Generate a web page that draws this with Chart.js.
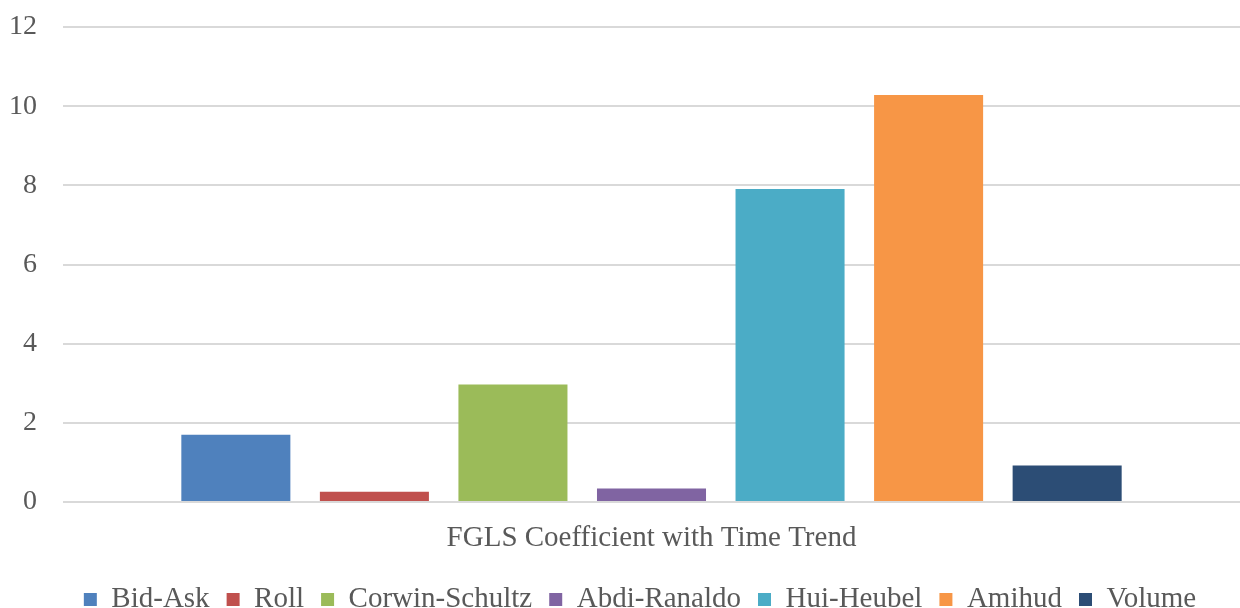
<!DOCTYPE html>
<html>
<head>
<meta charset="utf-8">
<title>FGLS Coefficient with Time Trend</title>
<script src="https://cdn.jsdelivr.net/npm/chart.js@4/dist/chart.umd.min.js"></script>
<style>
    html, body { margin: 0; padding: 0; background: #ffffff; }
    #wrap { width: 1240px; height: 608px; position: relative; }
</style>
</head>
<body>
<div id="wrap"><canvas id="fglsChart"></canvas></div>
<script>
// Liquidity measures and their coefficients on the time trend
const categories = ['FGLS Coefficient with Time Trend'];
const measures = ['Bid-Ask', 'Roll', 'Corwin-Schultz', 'Abdi-Ranaldo', 'Hui-Heubel', 'Amihud', 'Volume'];
const coefficients = [1.70, 0.26, 2.97, 0.34, 7.91, 10.28, 0.92];
const barColors = ['#4f81bd', '#c0504d', '#9bbb59', '#8064a2', '#4bacc6', '#f79646', '#2c4d75'];
const yRange = [0, 12];
const yStep = 2;

const fontFamily = "'Liberation Serif', 'Times New Roman', serif";
const textColor = '#595959';

// nudge the legend row a little to the right of the canvas centre
const legendShift = {
    id: 'legendShift',
    afterLayout: function(chart) {
        if (chart.legend) {
            chart.legend.left += 20;
            chart.legend.right += 20;
        }
    }
};

document.addEventListener('DOMContentLoaded', function() {
    const ctx = document.getElementById('fglsChart');

    const datasets = measures.map((name, i) => ({
        label: name,
        data: [coefficients[i]],
        backgroundColor: barColors[i],
        borderWidth: 0,
        categoryPercentage: 0.824,
        barPercentage: 0.787
    }));

    new Chart(ctx, {
        type: 'bar',
        data: {
            labels: categories,
            datasets: datasets
        },
        plugins: [legendShift],
        options: {
            responsive: true,
            maintainAspectRatio: false,
            animation: false,
            layout: {
                padding: { top: 27, right: 0, bottom: -16, left: 0 }
            },
            scales: {
                x: {
                    grid: { display: false, drawTicks: false },
                    border: { display: false },
                    ticks: {
                        color: textColor,
                        padding: 19,
                        font: { family: fontFamily, size: 29 }
                    },
                    afterFit: function(scale) {
                        scale.height = 66;
                    }
                },
                y: {
                    min: yRange[0],
                    max: yRange[1],
                    grid: {
                        color: '#d9d9d9',
                        lineWidth: 2,
                        drawTicks: false
                    },
                    border: { display: false },
                    ticks: {
                        stepSize: yStep,
                        color: textColor,
                        padding: 26,
                        font: { family: fontFamily, size: 28 }
                    },
                    afterFit: function(scale) {
                        // plot edge at x = 63, label overhang handled by the top padding
                        scale.width = 63;
                        scale.paddingTop = 0;
                        scale.paddingBottom = 0;
                    }
                }
            },
            plugins: {
                legend: {
                    position: 'bottom',
                    labels: {
                        boxWidth: 13,
                        boxHeight: 13,
                        padding: 17,
                        color: textColor,
                        font: { family: fontFamily, size: 29 }
                    }
                },
                tooltip: { enabled: false }
            }
        }
    });
});
</script>
</body>
</html>
